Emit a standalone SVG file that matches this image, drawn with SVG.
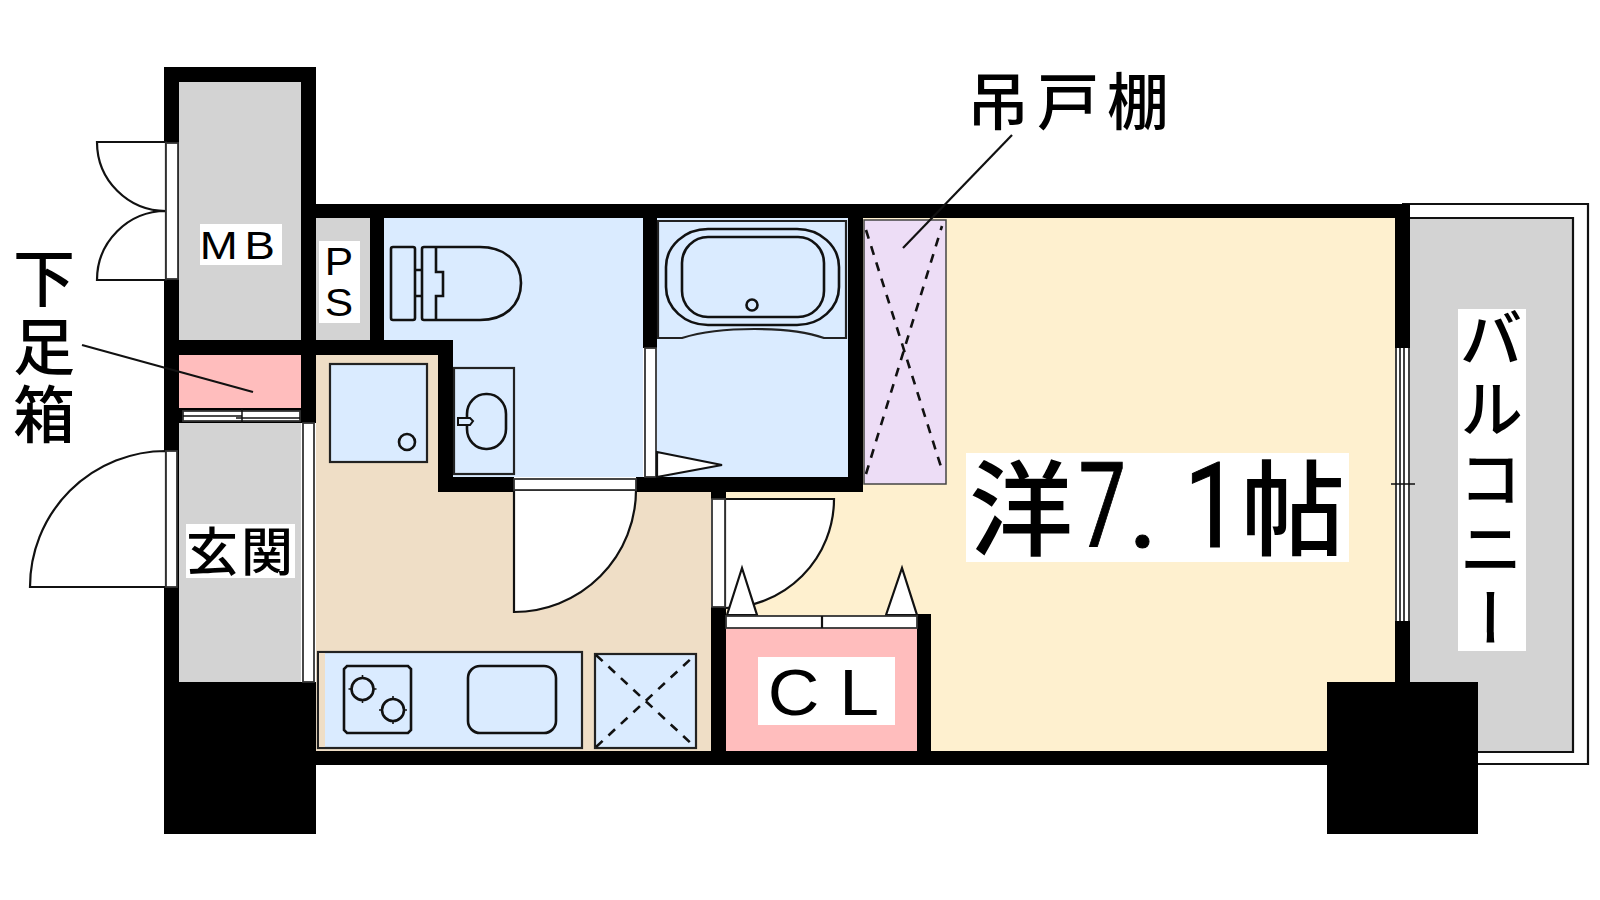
<svg xmlns="http://www.w3.org/2000/svg" width="1600" height="900" viewBox="0 0 1600 900">
<defs><style>
.l{fill:none;stroke:#111;stroke-width:2.2}
.w{fill:#fff;stroke:#333;stroke-width:1.8}
.s{fill:#fff;stroke:#111;stroke-width:2.2}
.b{fill:#DAEBFF;stroke:#222;stroke-width:2.2}
.m{fill:#DAEBFF;stroke:#111;stroke-width:2.6}
.d{fill:none;stroke:#111;stroke-width:2.6;stroke-dasharray:9 8}
.k{fill:#000}
.t{font-family:"Noto Sans CJK JP","Liberation Sans",sans-serif;fill:#000;font-weight:500}
.a{font-family:"Liberation Sans",sans-serif;fill:#000}
.n{font-family:Roboto,"Liberation Sans",sans-serif;font-weight:400;stroke:#000;stroke-width:1}
</style></defs>
<rect width="1600" height="900" fill="#fff"/>
<g id="floors">
<rect x="179" y="82" width="122" height="258" fill="#D3D3D3"/>
<rect x="316" y="218" width="54" height="122" fill="#D3D3D3"/>
<rect x="179" y="355" width="122" height="53" fill="#FFBDBD"/>
<rect x="179" y="423" width="122" height="259" fill="#D3D3D3"/>
<path d="M316 355H438V492H711V751H316Z" fill="#EFDEC6"/>
<rect x="726" y="218" width="669" height="533" fill="#FEF0CF"/>
<path d="M384 218H643V477H453V340H384Z" fill="#DAEBFF"/>
<rect x="657" y="218" width="191" height="259" fill="#DAEBFF"/>
<rect x="726" y="628" width="191" height="123" fill="#FFBDBD"/>
<rect x="1410" y="218" width="163" height="534" fill="#D3D3D3"/>
<rect x="864" y="220" width="82" height="264" fill="#EDDDF6" stroke="#444" stroke-width="1.5"/>
</g>
<g id="balcony-rail">
<path class="l" d="M1402 204H1588V764H1478M1410 218H1573V752H1478"/>
</g>
<g id="walls">
<rect class="k" x="164" y="67" width="152" height="15"/>
<rect class="k" x="164" y="67" width="15" height="615"/>
<rect class="k" x="301" y="67" width="15" height="356"/>
<rect class="k" x="164" y="340" width="289" height="15"/>
<rect class="k" x="164" y="408" width="152" height="15"/>
<rect class="k" x="301" y="204" width="1109" height="14"/>
<rect class="k" x="370" y="204" width="14" height="151"/>
<rect class="k" x="438" y="340" width="15" height="152"/>
<rect class="k" x="438" y="477" width="76" height="15"/>
<rect class="k" x="643" y="204" width="14" height="144"/>
<rect class="k" x="636" y="477" width="227" height="15"/>
<rect class="k" x="848" y="204" width="15" height="288"/>
<rect class="k" x="711" y="492" width="15" height="7"/>
<rect class="k" x="711" y="607" width="15" height="158"/>
<rect class="k" x="301" y="751" width="1026" height="14"/>
<rect class="k" x="917" y="614" width="14" height="151"/>
<rect class="k" x="1395" y="204" width="15" height="144"/>
<rect class="k" x="1395" y="621" width="15" height="61"/>
<rect class="k" x="164" y="682" width="152" height="152"/>
<rect class="k" x="1327" y="682" width="151" height="152"/>
</g>
<g id="doors">
<path class="s" d="M166 142H97A69 69 0 0 0 166 211A69 69 0 0 0 97 280H166Z"/>
<rect class="w" x="166" y="143" width="12" height="136"/>
<path class="s" d="M166 451A136 136 0 0 0 30 587H166Z"/>
<rect class="w" x="166" y="451" width="11" height="136"/>
<rect class="w" x="303" y="423" width="11" height="259"/>
<rect class="w" x="183" y="411" width="117" height="10"/>
<path class="l" style="stroke-width:1.5" d="M183 416H242M236 418H300M242 409V423"/>
<path class="s" d="M514 490H636A122 122 0 0 1 514 612Z"/>
<rect class="w" x="514" y="479" width="122" height="11"/>
<rect class="w" x="645" y="348" width="11" height="129"/>
<path class="s" d="M657 452L722 465L657 477Z"/>
<path class="s" d="M725 499H834A109 109 0 0 1 725 608Z"/>
<rect class="w" x="712" y="499" width="13" height="108"/>
<path class="s" d="M727 615L742 568L757 615Z"/>
<path class="s" d="M886 615L902 568L917 615Z"/>
<rect class="w" x="726" y="616" width="191" height="12"/>
<path class="l" d="M822 616V628"/>
<rect x="1396" y="348" width="13" height="273" fill="#fff"/>
<path class="l" style="stroke-width:1.6" d="M1396 348V621M1400 348V621M1404 348V621M1409 348V621M1391 484H1415M1400 478V490M1404 478V490"/>
</g>
<g id="fixtures">
<path class="m" d="M393 247H413Q415 247 415 249V318Q415 320 413 320H393Q391 320 391 318V249Q391 247 393 247Z"/>
<path class="m" d="M415 270H422M415 296H422"/>
<path class="m" d="M424 247H480C505 247 521 262 521 283C521 305 505 320 480 320H424Q422 320 422 318V249Q422 247 424 247Z"/>
<path class="l" style="stroke-width:2.6" d="M436 247V272H443V296H436V320"/>
<rect class="b" x="454" y="368" width="60" height="106"/>
<rect class="m" x="467" y="394" width="39" height="55" rx="19" ry="20"/>
<path class="m" style="stroke-width:2" d="M458 418H470L473 421L470 425H458Z" fill="#fff"/>
<rect class="b" x="330" y="364" width="97" height="98"/>
<circle class="m" cx="407" cy="442" r="8"/>
<path class="b" d="M658 221H846V338H824C790 326 720 326 682 338H658Z"/>
<rect class="m" x="666" y="229" width="173" height="96" rx="42" ry="38"/>
<rect class="m" x="682" y="237" width="142" height="80" rx="26" ry="26"/>
<circle class="m" cx="752" cy="305" r="5.5"/>
<path class="d" d="M866 230L942 470M866 474L942 226"/>
<rect class="b" x="318" y="652" width="264" height="96"/>
<rect x="319" y="653" width="6" height="94" fill="#EFDEC6"/>
<path class="m" d="M347 666H408L411 669V730L408 733H347L344 730V669Z"/>
<circle class="m" cx="362.5" cy="689" r="11"/>
<circle class="m" cx="393" cy="710" r="11"/>
<path class="l" style="stroke-width:1.6" d="M362.5 675V679M362.5 699V703M348.500 689H352.500M372.500 689H376.500M393 696V700M393 720V724M379 710H383M403 710H407"/>
<rect class="m" x="468" y="666" width="88" height="67" rx="12"/>
<rect class="b" x="595" y="654" width="101" height="94"/>
<path class="d" d="M596 655L695 747M596 747L695 655"/>
</g>
<g id="leaders">
<path class="l" d="M82 345L253 392"/>
<path class="l" d="M1012 135L903 248"/>
</g>
<g id="labels">
<rect x="200" y="224" width="82" height="41" fill="#fff"/>
<text class="a" transform="translate(203 259) scale(1.2 1)" font-size="38"><tspan x="-2.800">M</tspan><tspan x="34.500">B</tspan></text>
<rect x="319" y="241" width="41" height="82" fill="#fff"/>
<text class="a" transform="translate(339 275) scale(1.12 1)" font-size="38" text-anchor="middle">P</text>
<text class="a" transform="translate(339 316) scale(1.12 1)" font-size="38" text-anchor="middle">S</text>
<rect x="186" y="524" width="109" height="54" fill="#fff"/>
<text class="t" x="186" y="571" font-size="52" letter-spacing="3">玄関</text>
<rect x="758" y="657" width="137" height="68" fill="#fff"/>
<text class="a" transform="translate(771 715) scale(1.1 1)" font-size="65"><tspan x="-3">C</tspan><tspan x="62">L</tspan></text>
<rect x="966" y="453" width="383" height="109" fill="#fff"/>
<text class="t" y="548" font-size="104"><tspan x="969">洋</tspan><tspan class="n" x="1078.500" y="547" font-size="118" textLength="47.500" lengthAdjust="spacingAndGlyphs">7</tspan><tspan class="n" x="1127.500" y="547" font-size="118">.</tspan><tspan class="n" x="1184" y="547" font-size="118" textLength="56" lengthAdjust="spacingAndGlyphs">1</tspan><tspan x="1241" y="548">帖</tspan></text>
<rect x="1458" y="309" width="68" height="342" fill="#fff"/>
<text class="t" x="1491" y="306" font-size="64" letter-spacing="6" style="writing-mode:vertical-rl">バルコニー</text>
<text class="t" x="44" y="247" font-size="62" letter-spacing="6" style="writing-mode:vertical-rl">下足箱</text>
<text class="t" x="967" y="125" font-size="62" letter-spacing="8">吊戸棚</text>
</g>
</svg>
